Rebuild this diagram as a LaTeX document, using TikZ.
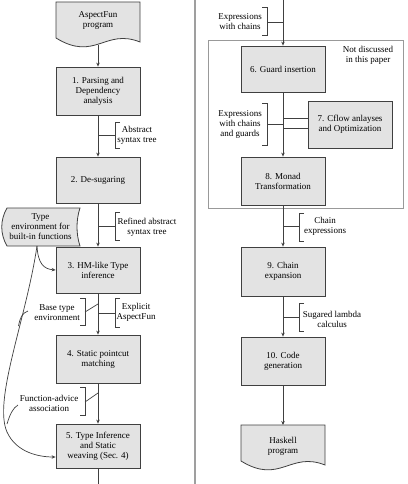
\documentclass[tikz,border=0pt]{standalone}
\usepackage{fontspec}
\setmainfont{Liberation Serif}
\usetikzlibrary{arrows.meta}
\begin{document}
\begin{tikzpicture}[x=1pt,y=-1pt,
  font=\fontsize{9}{10}\selectfont,
  proc/.style={draw=black!75, fill=gray!22, line width=0.8pt, align=center, inner sep=0pt, minimum width=84pt},
  docshape/.style={draw=black!75, fill=gray!22, line width=0.8pt},
  lbl/.style={align=center, inner sep=0pt},
  flow/.style={draw=black!75, line width=0.7pt, -{Stealth[length=4pt,width=3.5pt]}},
  link/.style={draw=black!75, line width=0.7pt},
  brk/.style={draw=black!75, line width=0.7pt}]
\useasboundingbox (0,0) rectangle (407,484);

% column separator
\draw[gray!75, line width=1.2pt] (195,0) -- (195,484);

% group frame
\draw[gray!80, line width=0.6pt] (208,40) rectangle (403,208);
\node[lbl] (nd) at (368,55) {Not discussed\\in this paper};

% documents
\draw[docshape] (56,2) -- (140,2) -- (140,42) .. controls (105,28) and (95,62) .. (56,38) -- cycle;
\node[lbl] (d1) at (98,21) {AspectFun\\program};
\coordinate (d1b) at (98,45);

\draw[docshape] (241,425) -- (325,425) -- (325,465) .. controls (290,451) and (280,485) .. (241,461) -- cycle;
\node[lbl] (d2) at (283,446) {Haskell\\program};
\coordinate (d2t) at (283,425);

% type environment (stored data)
\draw[docshape] (7,208) -- (80,208) .. controls (76,220) and (76,234) .. (80,246) -- (7,246) .. controls (0,234) and (0,220) .. (7,208) -- cycle;
\node[lbl] (tenv) at (40.5,227) {Type\\environment for\\built-in functions};
\coordinate (te) at (37,246);

% left column processes
\node[proc, minimum height=48pt] (b1) at (98,91) {1. Parsing and\\Dependency\\analysis};
\node[proc, minimum height=46pt] (b2) at (98,180) {2. De-sugaring};
\node[proc, minimum height=46pt] (b3) at (98,270) {3. HM-like Type\\inference};
\node[proc, minimum height=48pt] (b4) at (98,359) {4. Static pointcut\\matching};
\node[proc, minimum height=44pt] (b5) at (98,446) {5. Type Inference\\and Static\\weaving (Sec. 4)};
\coordinate (lbot) at (98,484);

% right column processes
\coordinate (rtop) at (283,0);
\node[proc, minimum height=46pt] (b6) at (283,69) {6. Guard insertion};
\node[proc, minimum height=47pt] (b7) at (350,124.5) {7. Cflow anlayses\\and Optimization};
\node[proc, minimum height=48pt] (b8) at (283,181) {8. Monad\\Transformation};
\node[proc, minimum height=49pt] (b9) at (283,271.5) {9. Chain\\expansion};
\node[proc, minimum height=48pt] (b10) at (283,361) {10. Code\\generation};

% main flows
\draw[flow] (d1b) -- (b1.north);
\draw[flow] (b1) -- (b2);
\draw[flow] (b2) -- (b3);
\draw[flow] (b3) -- (b4);
\draw[flow] (b4) -- (b5);
\draw[link] (b5.south) -- (lbot);

\draw[flow] (rtop) -- (b6.north);
\draw[flow] (b6) -- (b8);
\draw[flow] (b8) -- (b9);
\draw[flow] (b9) -- (b10);
\draw[flow] (b10) -- (d2t);
\draw[link] ([yshift=6pt]b7.west) -- ++(-25,0);
\draw[link] ([yshift=-4pt]b7.west) -- ++(-25,0);

% type environment curves
\draw[flow] (te) .. controls (38,264) and (44,269) .. (b3.west);
\draw[flow] (te) .. controls (26,320) and (-7,400) .. (7,432) .. controls (16,452) and (38,457) .. ([yshift=-11pt]b5.west);

% annotations (right of left column)
\node[lbl] (a1) at (137,135) {Abstract\\syntax tree};
\draw[brk] (120,122) -- (115,122) -- (115,148) -- (120,148);
\draw[link] (98,135) -- (115,135);

\node[lbl] (a2) at (147,227) {Refined abstract\\syntax tree};
\draw[brk] (120,212) -- (115,212) -- (115,240) -- (120,240);
\draw[link] (98,226) -- (115,226);

\node[lbl] (a3) at (136,312) {Explicit\\AspectFun};
\draw[brk] (120,298) -- (115,298) -- (115,327) -- (120,327);
\draw[link] (98,313) -- (115,313);

% annotations (left of left column)
\node[lbl] (a4) at (57,313) {Base type\\environment};
\draw[brk] (80,298) -- (85,298) -- (85,325) -- (80,325);
\draw[link] (85,312) -- (98,304);
\draw[link] (28,311) .. controls (22,313) and (20,318) .. (18.5,326);

\node[lbl] (a5) at (49,403) {Function-advice\\association};
\draw[brk] (80,387) -- (85,387) -- (85,415) -- (80,415);
\draw[link] (85,402) -- (98,393);
\draw[link] (18,405) .. controls (13,408) and (10,414) .. (7,424);

% annotations right column
\node[lbl] (a6) at (240,21.5) {Expressions\\with chains};
\draw[brk] (262,7) -- (267,7) -- (267,35) -- (262,35);
\draw[link] (267,22) -- (283,22);

\node[lbl] (a7) at (240,124) {Expressions\\with chains\\and guards};
\draw[brk] (262,103) -- (267,103) -- (267,145) -- (262,145);
\draw[link] (267,124) -- (283,124);

\node[lbl] (a8) at (325,226.5) {Chain\\expressions};
\draw[brk] (304,213) -- (299,213) -- (299,241) -- (304,241);
\draw[link] (283,226) -- (299,226);

\node[lbl] (a9) at (332,319.5) {Sugared lambda\\calculus};
\draw[brk] (304,303) -- (299,303) -- (299,331) -- (304,331);
\draw[link] (283,317) -- (299,317);
\end{tikzpicture}
\end{document}
